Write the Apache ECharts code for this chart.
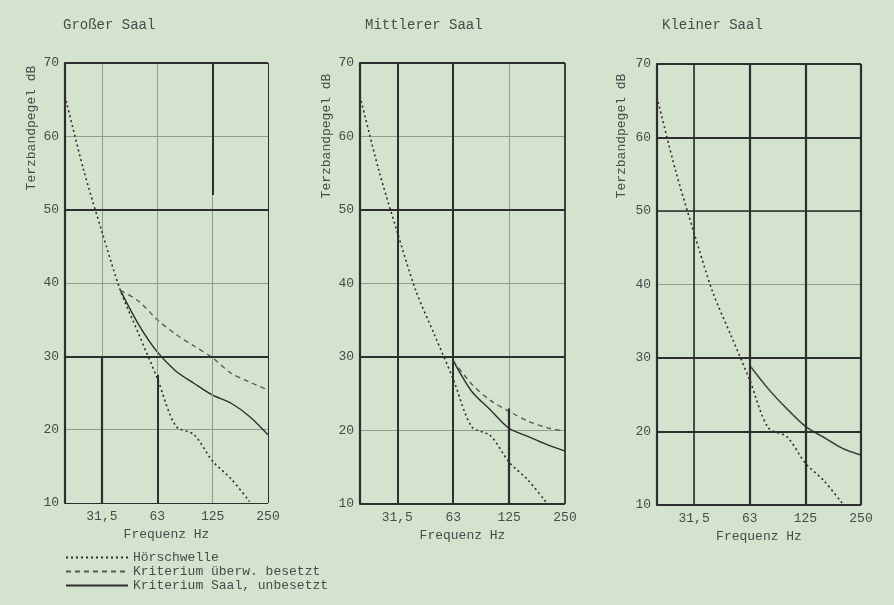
<!DOCTYPE html>
<html>
<head>
<meta charset="utf-8">
<script src="https://cdn.jsdelivr.net/npm/echarts@6/dist/echarts.min.js"></script>
<style>
html,body{margin:0;padding:0;background:#d4e3ce;}
#c{width:894px;height:605px;}
</style>
</head>
<body>
<div id="c"></div>
<script>
// ---- data ----
const freqs = ['20','25','31.5','40','50','63','80','100','125','160','200','250'];
const xTickValues = ['31.5','63','125','250'];
const xTickLabels = ['31,5','63','125','250'];
const panelTitles = ['Großer Saal','Mittlerer Saal','Kleiner Saal'];
const seriesNames = ['Hörschwelle','Kriterium überw. besetzt','Kriterium Saal, unbesetzt'];
const yAxisTitle = 'Terzbandpegel dB';
const xAxisTitle = 'Frequenz Hz';

const hoerschwelle = [65.5, 55.5, 47, 39, 33, 27, 20.5, 19.3, 15.7, 13.3, 10.2, null];
const grossBesetzt   = [null, null, null, 39, 37.5, 35, 33, 31.4, 29.8, 27.7, 26.5, 25.4];
const grossUnbesetzt = [null, null, null, 39, 34.3, 30.6, 28, 26.3, 24.7, 23.6, 21.8, 19.3];
const mittelBesetzt   = [null, null, null, null, null, 29.5, 26.3, 24.1, 22.6, 21.3, 20.4, 19.9];
const mittelUnbesetzt = [null, null, null, null, null, 29.5, 25.3, 22.8, 20.3, 19.2, 18.1, 17.2];
const kleinBesetzt   = [null, null, null, null, null, 29, 25.8, 23.1, 20.7, 19.2, 17.7, 16.8];
const kleinUnbesetzt = [null, null, null, null, null, 29, 25.8, 23.1, 20.7, 19.2, 17.7, 16.8];

const panelData = [
  [hoerschwelle, grossBesetzt, grossUnbesetzt],
  [hoerschwelle, mittelBesetzt, mittelUnbesetzt],
  [hoerschwelle, kleinBesetzt, kleinUnbesetzt]
];

// ---- layout & style ----
const FONT = 'Liberation Mono';
const TXT = '#4a4a4a';
const DARK = '#2e2e2e';
const THIN = '#8f9c8c';
const grids = [
  {left: 65, top: 63, width: 203, height: 440},
  {left: 360, top: 63, width: 205, height: 441},
  {left: 657, top: 64, width: 204, height: 441}
];
const yNamePos = [[32, 128], [327, 136], [622, 136]];

// thick/structural lines per panel: horizontal [y, x1, x2, width], vertical [x, y1, y2, width]
const heavy = [
  {h: [[70,'20','250',2.2],[50,'20','250',2.2],[30,'20','250',2.2],[10,'20','250',1]],
   v: [['31.5',10,30,2.2],['63',10,27.5,2],['125',52,70,2],['250',10,70,1]]},
  {h: [[70,'20','250',2.2],[50,'20','250',2.2],[30,'20','250',2.2],[10,'20','250',2.2]],
   v: [['31.5',10,70,2],['63',10,70,2],['125',10,23,2.2],['250',10,70,1.8]]},
  {h: [[70,'20','250',2.2],[60,'20','250',2.2],[50,'20','250',1.6],[30,'20','250',2],[20,'20','250',2.2],[10,'20','250',2.2]],
   v: [['31.5',10,70,1.6],['63',10,70,2.2],['125',10,70,2.2],['250',10,70,2.2]]}
];
const thinV = ['31.5','63','125'];

const styles = [
  {color: DARK, width: 1.6, type: [2, 3]},
  {color: '#555', width: 1.3, type: [5, 4]},
  {color: DARK, width: 1.4, type: 'solid'}
];

const option = {
  backgroundColor: '#d4e3ce',
  animation: false,
  title: panelTitles.map((t, i) => ({
    text: t, left: grids[i].left - (i === 0 ? 7 : 0), top: 13,
    textStyle: {fontFamily: FONT, fontSize: 14, fontWeight: 'normal', color: TXT}
  })),
  legend: {
    data: seriesNames, orient: 'vertical', left: 65, top: 551, height: 54, padding: 0,
    itemWidth: 62, itemHeight: 10, itemGap: 1,
    itemStyle: {opacity: 0},
    textStyle: {fontFamily: FONT, fontSize: 13, color: TXT, lineHeight: 12},
    selectedMode: false
  },
  grid: grids.map(g => Object.assign({containLabel: false}, g)),
  xAxis: grids.map((g, i) => ({
    type: 'category', gridIndex: i, data: freqs, boundaryGap: false,
    axisLine: {show: false},
    axisTick: {show: false},
    splitLine: {show: false},
    axisLabel: {
      interval: (idx, val) => xTickValues.indexOf(val) >= 0,
      formatter: v => xTickLabels[xTickValues.indexOf(v)],
      fontFamily: FONT, fontSize: 13, color: TXT, margin: 7
    },
    name: xAxisTitle, nameLocation: 'middle', nameGap: 21,
    nameTextStyle: {fontFamily: FONT, fontSize: 13, color: TXT}
  })),
  yAxis: grids.map((g, i) => ({
    type: 'value', gridIndex: i, min: 10, max: 70, interval: 10,
    axisLine: {show: true, lineStyle: {color: DARK, width: 2.2}},
    axisTick: {show: false},
    splitLine: {show: true, lineStyle: {color: THIN, width: 1}},
    axisLabel: {fontFamily: FONT, fontSize: 13, color: TXT, margin: 6}
  })),
  graphic: yNamePos.map(p => ({
    type: 'text', x: p[0], y: p[1], rotation: Math.PI / 2,
    style: {text: yAxisTitle, font: '13px ' + FONT, fill: TXT, align: 'center', verticalAlign: 'middle'}
  })),
  series: []
};

grids.forEach((g, i) => {
  const ml = [];
  thinV.forEach(x => ml.push([{coord: [x, 10], lineStyle: {color: THIN, width: 1, type: 'solid'}}, {coord: [x, 70]}]));
  heavy[i].h.forEach(h => ml.push([{coord: [h[1], h[0]], lineStyle: {color: DARK, width: h[3], type: 'solid'}}, {coord: [h[2], h[0]]}]));
  heavy[i].v.forEach(v => ml.push([{coord: [v[0], v[1]], lineStyle: {color: DARK, width: v[3], type: 'solid'}}, {coord: [v[0], v[2]]}]));
  option.series.push({
    type: 'line', name: 'grid' + i, xAxisIndex: i, yAxisIndex: i, data: [], silent: true, z: 1,
    markLine: {silent: true, symbol: ['none', 'none'], label: {show: false}, animation: false, data: ml}
  });
  panelData[i].forEach((vals, k) => {
    option.series.push({
      type: 'line', name: seriesNames[k], xAxisIndex: i, yAxisIndex: i,
      data: vals, smooth: 0.3, symbol: 'none', showSymbol: false, connectNulls: false,
      lineStyle: styles[k], itemStyle: {color: styles[k].color}, z: 3 + (2 - k),
      emphasis: {disabled: true}
    });
  });
});

const chart = echarts.init(document.getElementById('c'), null, {renderer: 'canvas'});
chart.setOption(option);
</script>
</body>
</html>
